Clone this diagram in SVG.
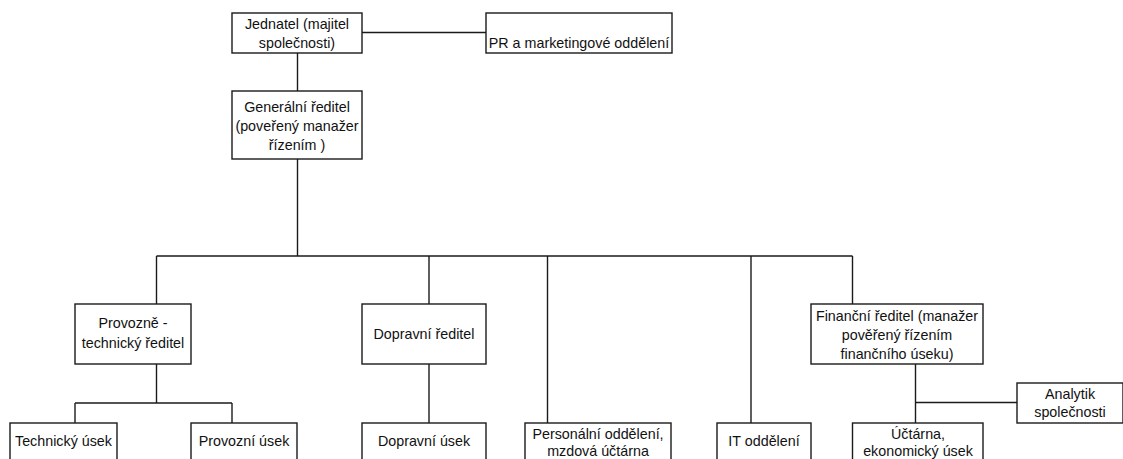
<svg xmlns="http://www.w3.org/2000/svg" width="1123" height="459" viewBox="0 0 1123 459">
<style>
.box{fill:#fff;stroke:#1a1a1a;stroke-width:1.4}
.ln{fill:none;stroke:#1a1a1a;stroke-width:1.4}
text{font-family:"Liberation Sans",Arial,sans-serif;font-size:14.3px;fill:#111;text-anchor:middle}
</style>
<rect width="1123" height="459" fill="#fff"/>
<g id="connectors">
<path class="ln" d="M362 32.5H486"/>
<path class="ln" d="M297.5 53V91"/>
<path class="ln" d="M297.5 159V256"/>
<path class="ln" d="M156.5 256H852.5"/>
<path class="ln" d="M156.5 256V304"/>
<path class="ln" d="M429 256V304"/>
<path class="ln" d="M547.5 256V423"/>
<path class="ln" d="M751 256V423"/>
<path class="ln" d="M852.5 256V304"/>
<path class="ln" d="M156.5 364V403"/>
<path class="ln" d="M75 403H232"/>
<path class="ln" d="M75 403V423"/>
<path class="ln" d="M232 403V423"/>
<path class="ln" d="M429 364V423"/>
<path class="ln" d="M915.5 364V423"/>
<path class="ln" d="M915.5 402.5H1017"/>
</g>
<g id="jednatel"><rect class="box" x="232" y="13" width="130" height="40"/><text x="297" y="29">Jednatel (majitel</text><text x="297" y="48">společnosti)</text></g>
<g id="pr"><rect class="box" x="486" y="13" width="186" height="40"/><text x="579" y="48">PR a marketingové oddělení</text></g>
<g id="generalni"><rect class="box" x="232" y="91" width="130" height="68"/><text x="297" y="111.5">Generální ředitel</text><text x="297" y="130.5">(poveřený manažer</text><text x="297" y="149.5">řízením )</text></g>
<g id="provozne"><rect class="box" x="75" y="304" width="116" height="60"/><text x="133" y="327.5">Provozně -</text><text x="133" y="348">technický ředitel</text></g>
<g id="dopravni-reditel"><rect class="box" x="362" y="304" width="124" height="60"/><text x="424" y="338.5">Dopravní ředitel</text></g>
<g id="financni"><rect class="box" x="811" y="304" width="172" height="60"/><text x="897" y="321">Finanční ředitel (manažer</text><text x="897" y="340">pověřený řízením</text><text x="897" y="359">finančního úseku)</text></g>
<g id="technicky"><rect class="box" x="10" y="423" width="107" height="50"/><text x="63.5" y="446">Technický úsek</text></g>
<g id="provozni"><rect class="box" x="191" y="423" width="106" height="50"/><text x="244" y="446">Provozní úsek</text></g>
<g id="dopravni-usek"><rect class="box" x="362" y="423" width="124" height="50"/><text x="424" y="446">Dopravní úsek</text></g>
<g id="personalni"><rect class="box" x="525" y="423" width="146" height="50"/><text x="598" y="439">Personální oddělení,</text><text x="598" y="456">mzdová účtárna</text></g>
<g id="it"><rect class="box" x="717" y="423" width="94" height="50"/><text x="764" y="446">IT oddělení</text></g>
<g id="uctarna"><rect class="box" x="852.5" y="423" width="130.5" height="50"/><text x="918" y="439">Účtárna,</text><text x="918" y="456">ekonomický úsek</text></g>
<g id="analytik"><rect class="box" x="1017" y="383" width="106" height="40"/><text x="1070" y="398.5">Analytik</text><text x="1070" y="417">společnosti</text></g>
</svg>
